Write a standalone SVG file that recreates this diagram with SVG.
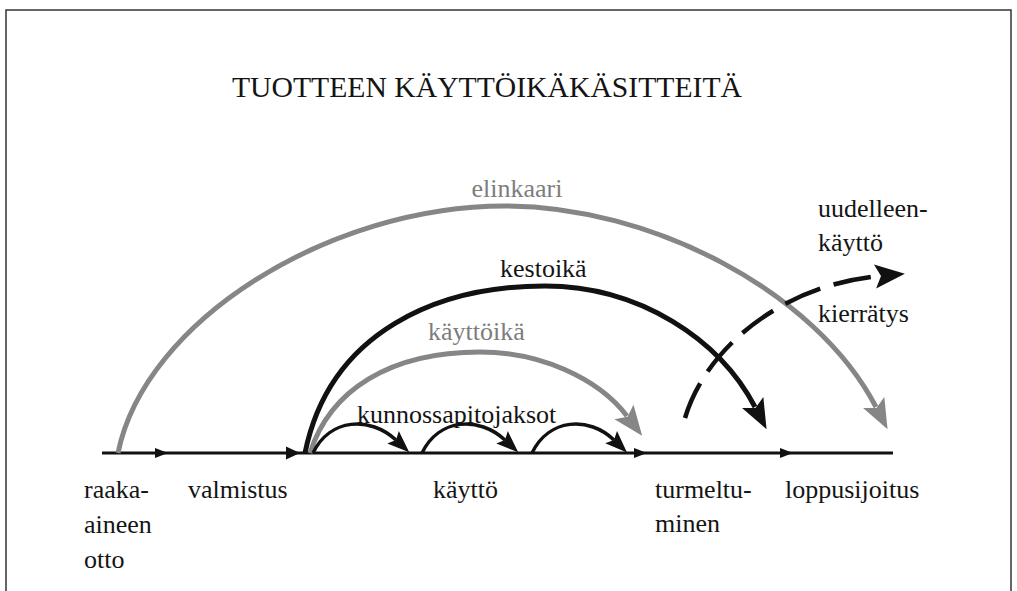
<svg xmlns="http://www.w3.org/2000/svg" width="1017" height="591" viewBox="0 0 1017 591">
<style>
text{font-family:"Liberation Serif","Times New Roman",serif;font-size:26px;fill:#141414}
.g{fill:#7d7d7d}
.arcG{fill:none;stroke:#868686;stroke-width:5}
.arcB{fill:none;stroke:#111;stroke-width:5}
.small{fill:none;stroke:#111;stroke-width:3.5}
.base{fill:none;stroke:#111;stroke-width:3}
.dash{fill:none;stroke:#111;stroke-width:4.5;stroke-dasharray:38 14}
.headB{fill:#111;stroke:none}
.headG{fill:#868686;stroke:none}
</style>
<defs>
<marker id="bigB" markerUnits="userSpaceOnUse" orient="auto" refX="0" refY="0" markerWidth="40" markerHeight="40" overflow="visible"><path class="headB" d="M-5,-12 L25,0 L-5,12 L1,0 Z"/></marker>
<marker id="bigG" markerUnits="userSpaceOnUse" orient="auto" refX="0" refY="0" markerWidth="40" markerHeight="40" overflow="visible"><path class="headG" d="M-5,-12 L25,0 L-5,12 L1,0 Z"/></marker>
<marker id="smB" markerUnits="userSpaceOnUse" orient="auto" refX="0" refY="0" markerWidth="30" markerHeight="30" overflow="visible"><path class="headB" d="M-4,-8.5 L18,0 L-4,8.5 L0,0 Z"/></marker>
</defs>
<rect x="6" y="10" width="1005" height="620" fill="#fff" stroke="#333" stroke-width="1.5"/>
<g id="title"><text x="232" y="97" textLength="510" lengthAdjust="spacingAndGlyphs" style="font-size:29px">TUOTTEEN KÄYTTÖIKÄKÄSITTEITÄ</text></g>
<g id="connectors">
<path class="base" d="M102,453 H893"/>
<polygon class="headB" points="155,448 168,453 155,458"/>
<polygon class="headB" points="286,446.5 300,453 286,459.5"/>
<polygon class="headB" points="634,448 647,453 634,458"/>
<polygon class="headB" points="780,448 793,453 780,458"/>
<path id="elinkaari-arc" class="arcG" d="M118,453 C145,320 330,206 505,206 C650,206 815,290 876,407" marker-end="url(#bigG)"/>
<path id="kestoika-arc" class="arcB" d="M305,453 C330,330 440,286 545,286 C640,286 720,340 755,407" marker-end="url(#bigB)"/>
<path id="kayttoika-arc" class="arcG" d="M310,453 C330,390 390,352 480,352 C540,352 598,378 627,416" marker-end="url(#bigG)"/>
<path class="small" d="M313,453 C330,418 370,416 396,440" marker-end="url(#smB)"/>
<path class="small" d="M422,453 C439,418 479,416 505,440" marker-end="url(#smB)"/>
<path class="small" d="M532,453 C549,418 589,416 614,440" marker-end="url(#smB)"/>
<path class="dash" d="M685,418 C705,350 780,285 880,276" marker-end="url(#bigB)"/>
</g>
<g id="label-elinkaari"><text class="g" x="517" y="197" text-anchor="middle">elinkaari</text></g>
<g id="label-kestoika"><text x="500" y="277">kestoikä</text></g>
<g id="label-kayttoika"><text class="g" x="428" y="340">käyttöikä</text></g>
<g id="label-kunnossapito"><text x="357" y="423">kunnossapitojaksot</text></g>
<g id="label-uudelleen"><text x="818" y="217">uudelleen-</text><text x="818" y="251">käyttö</text></g>
<g id="label-kierratys"><text x="818" y="322">kierrätys</text></g>
<g id="node-raaka"><text x="84" y="498">raaka-</text><text x="84" y="533">aineen</text><text x="84" y="568">otto</text></g>
<g id="node-valmistus"><text x="188" y="498">valmistus</text></g>
<g id="node-kaytto"><text x="433" y="498">käyttö</text></g>
<g id="node-turmeltuminen"><text x="655" y="498">turmeltu-</text><text x="655" y="532">minen</text></g>
<g id="node-loppusijoitus"><text x="785" y="498">loppusijoitus</text></g>
</svg>
